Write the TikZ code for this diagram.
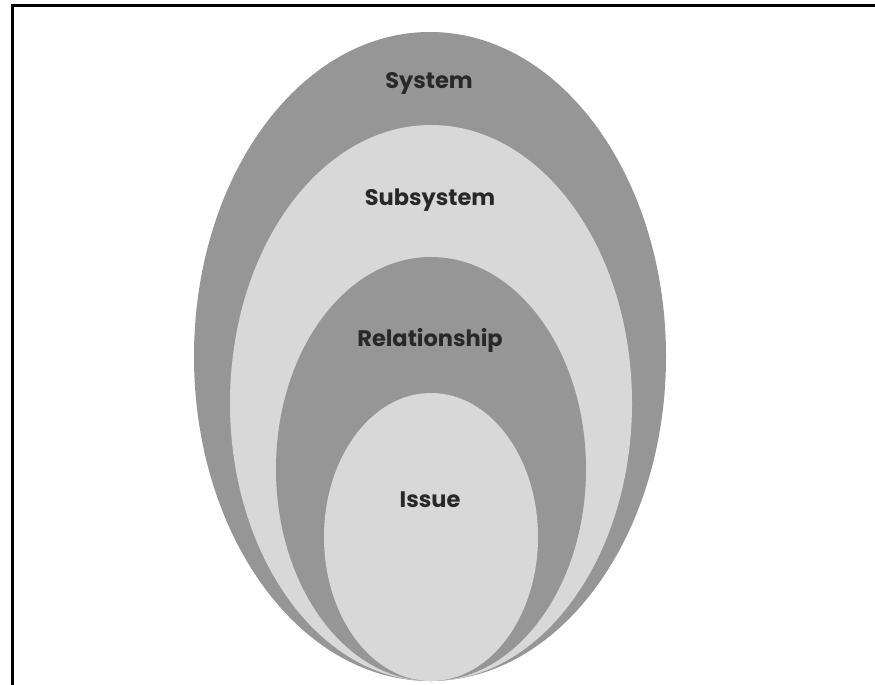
\documentclass[tikz,border=0pt]{standalone}
\usepackage{fontspec}
\setmainfont{Poppins}
\begin{document}
\begin{tikzpicture}[x=1pt,y=-1pt,
  darkring/.style={fill=ringdark},
  lightring/.style={fill=ringlight},
  lbl/.style={font=\bfseries\fontsize{22.5}{24}\selectfont, text=labeltext, inner sep=0pt}]
\definecolor{ringdark}{RGB}{150,150,150}
\definecolor{ringlight}{RGB}{216,216,216}
\definecolor{labeltext}{RGB}{40,40,40}
\useasboundingbox (0,0) rectangle (875,685);
\clip (0,0) rectangle (875,685);
\fill[white] (0,0) rectangle (875,685);
% frame
\draw[line width=3pt, black] (12.5,5.5) rectangle (900,720);
% nested rings
\fill[darkring] (430,356.5) ellipse [x radius=236, y radius=324.5];
\fill[lightring] (431,403) ellipse [x radius=201, y radius=278];
\fill[darkring] (431,469) ellipse [x radius=155, y radius=212];
\fill[lightring] (431,537) ellipse [x radius=107, y radius=144];
% labels
\node[lbl] (system) at (429,83) {System};
\node[lbl] (subsystem) at (430,200) {Subsystem};
\node[lbl] (relationship) at (430,340) {Relationship};
\node[lbl] (issue) at (430,500) {Issue};
\end{tikzpicture}
\end{document}
